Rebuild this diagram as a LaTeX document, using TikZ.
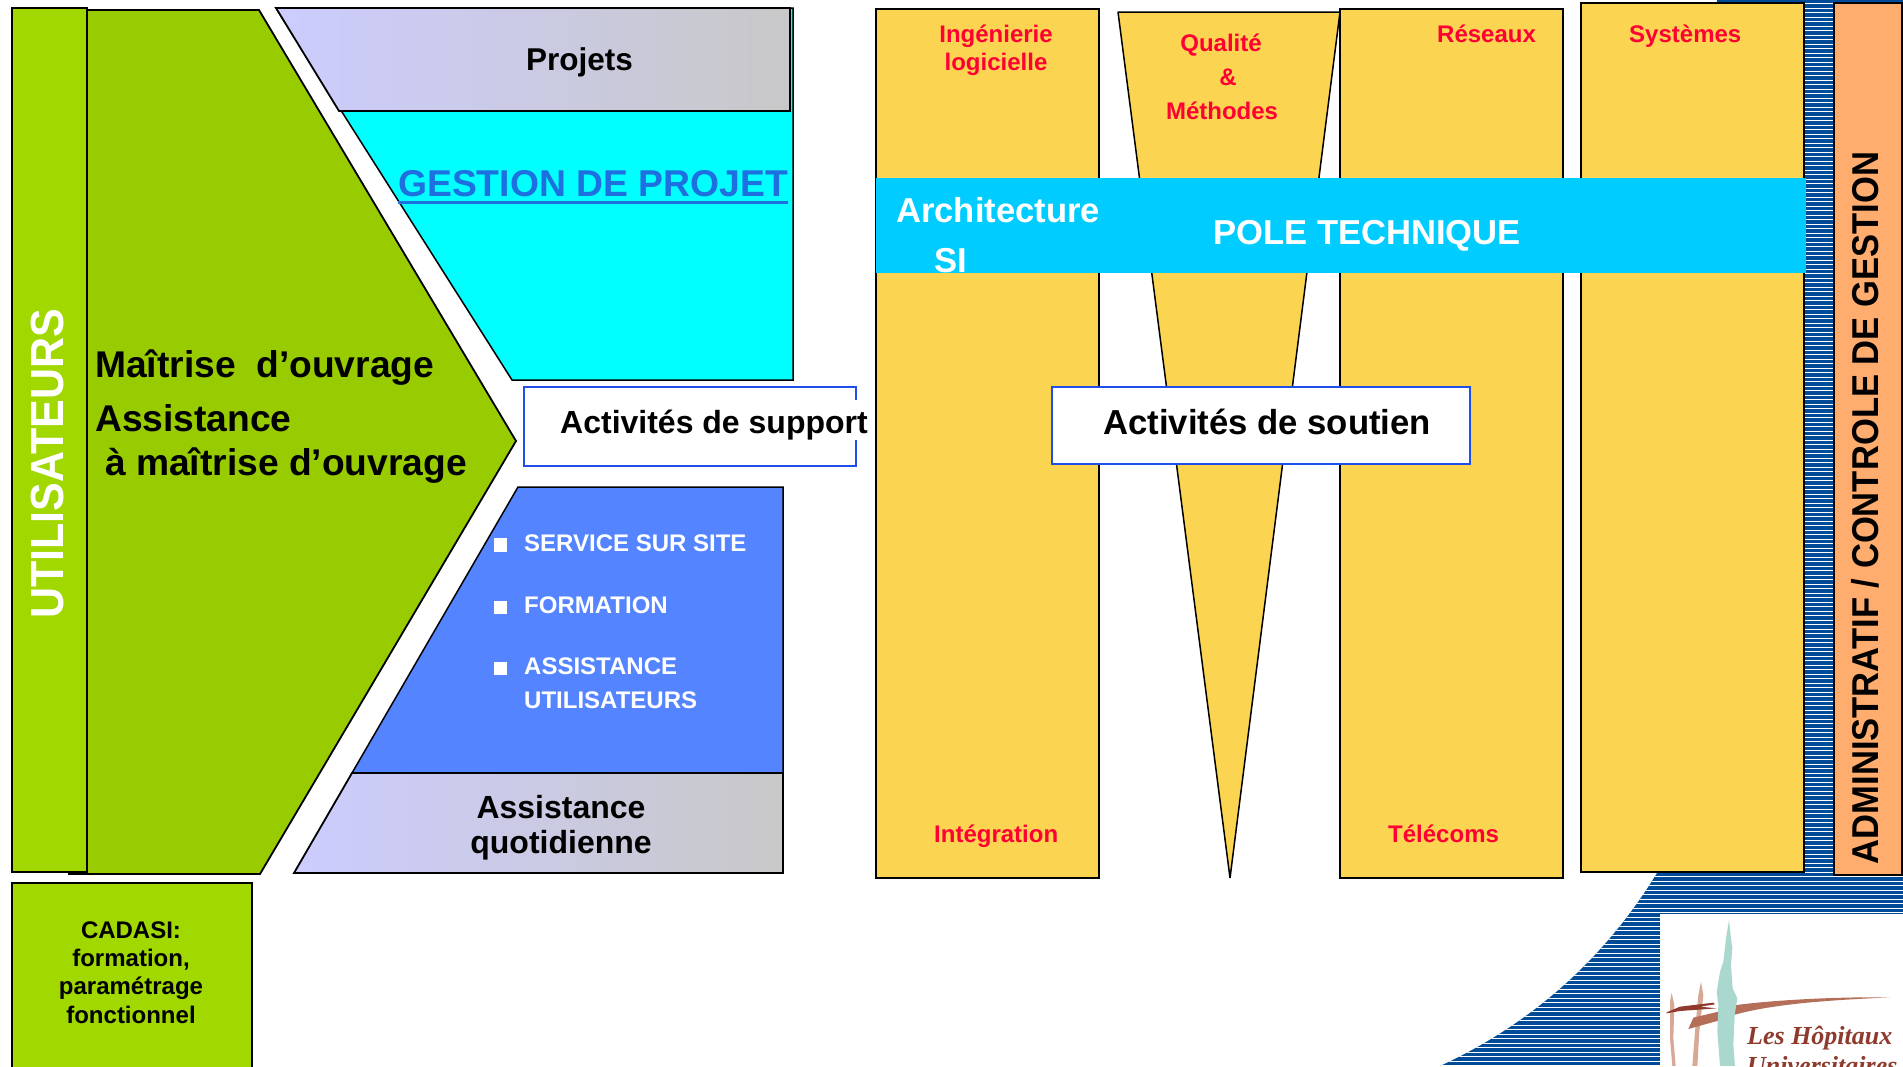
\documentclass[tikz,border=0pt]{standalone}
\usepackage{fontspec}
\setmainfont{Liberation Sans}
\newfontfamily\logofont{Liberation Serif}
\definecolor{barGreen}{HTML}{A0D800}
\definecolor{hexGreen}{HTML}{99CC00}
\definecolor{colYellow}{HTML}{FBD452}
\definecolor{bandBlue}{HTML}{00CCFF}
\definecolor{cyanFill}{HTML}{00FFFF}
\definecolor{listBlue}{HTML}{5484FF}
\definecolor{boxBlue}{HTML}{1F4FE8}
\definecolor{linkBlue}{HTML}{1E6FE0}
\definecolor{redText}{HTML}{FF0033}
\definecolor{orangeFill}{HTML}{FFAD6F}
\definecolor{hatchBlue}{HTML}{004C99}
\definecolor{gradA}{HTML}{CCCCFF}
\definecolor{gradB}{HTML}{C8C8C8}
\definecolor{logoDark}{HTML}{8E3B2E}
\definecolor{logoBrown}{HTML}{B56E58}
\definecolor{logoTan}{HTML}{D8A897}
\definecolor{logoTeal}{HTML}{ABD8CE}
\tikzset{
  shapeline/.style={draw=black,line width=1.8pt,line join=miter},
  gradshape/.style={shapeline,left color=gradA,right color=gradB},
  column/.style={shapeline,fill=colYellow},
  lab/.style={inner sep=0pt,anchor=base west,font=\bfseries\fontsize{#1}{#1}\selectfont},
  clab/.style={inner sep=0pt,anchor=base,font=\bfseries\fontsize{#1}{#1}\selectfont},
  redlab/.style={lab=24,text=redText},
  credlab/.style={clab=24,text=redText},
  listlab/.style={lab=24,text=white},
  bulletmark/.style={fill=white},
  blueframe/.style={draw=boxBlue,line width=2.8pt},
}
\begin{document}
\begin{tikzpicture}[x=1pt,y=-1pt]
\useasboundingbox (0,0) rectangle (1903,1066);
\clip (0,0) rectangle (1903,1066);
% hatched background
\begin{scope}
  \path[clip] (1717,0) -- (1903,0) -- (1903,914) -- (1660,914) -- (1660,1066) -- (1440,1066)
     .. controls (1540,1020) and (1610,950) .. (1657,873) -- (1700,873) -- cycle;
  \fill[hatchBlue] (1400,0) rectangle (1903,1066);
  \foreach \k in {0,...,236} {
    \draw[white,line width=1.2pt] (1400,3.7+4.5*\k) -- (1903,3.7+4.5*\k);
  }
\end{scope}
% left block
\path[shapeline,fill=hexGreen] (87,10) -- (259,10) -- (516,441) -- (260,874) -- (69,874) -- (69,872) -- (87,872) -- cycle;
\path[shapeline,fill=barGreen] (12,8) rectangle (87,872);
\node[lab=43,anchor=base,rotate=90,text=white] (users) at (63,464) {\scalebox{1}[1.08]{UTILISATEURS}};
\node[lab=37.2] (moa) at (95,377) {Maîtrise\ \ d’ouvrage};
\node[lab=37.2] (assist) at (95,431) {Assistance};
\node[lab=37.2] (amoa) at (105,475) {à maîtrise d’ouvrage};
% projects
\path[draw=black,line width=1.5pt,fill=cyanFill] (276,8) -- (793,8) -- (793,380) -- (512,380) -- cycle;
\path[gradshape] (276,8) -- (790,8) -- (790,111) -- (339,111) -- cycle;
\node[lab=31.5] (projets) at (526,70) {Projets};
\node[lab=37.3,text=linkBlue] (gestion) at (398,196) {GESTION DE PROJET};
\fill[linkBlue] ([yshift=-5pt]gestion.base west) rectangle ([yshift=-8pt]gestion.base east);
% support box
\fill[white] (524,386) rectangle (856,467);
\draw[blueframe,line join=miter] (856,400) -- (856,387) -- (524,387) -- (524,466) -- (856,466) -- (856,440);
\node[lab=32] (support) at (560,433) {Activités de support};
% list block
\path[shapeline,line width=1.5pt,fill=listBlue] (518,487) -- (783,487) -- (783,773) -- (352,773) -- cycle;
\path[gradshape] (352,773) -- (783,773) -- (783,873) -- (294,873) -- cycle;
\fill[bulletmark] (494,538) rectangle (507,552);
\fill[bulletmark] (494,601) rectangle (507,614);
\fill[bulletmark] (494,662) rectangle (507,675);
\node[listlab] (l1) at (524,551) {SERVICE SUR SITE};
\node[listlab] (l2) at (524,613) {FORMATION};
\node[listlab] (l3) at (524,674) {ASSISTANCE};
\node[listlab] (l4) at (524,708) {UTILISATEURS};
\node[clab=32] (aq1) at (561,818) {Assistance};
\node[clab=32] (aq2) at (561,853) {quotidienne};
% CADASI
\path[shapeline,fill=barGreen] (12,883) rectangle (252,1075);
\node[clab=24] (c1) at (131,938) {CADASI:};
\node[clab=24] (c2) at (131,966) {formation,};
\node[clab=24] (c3) at (131,994) {paramétrage};
\node[clab=24] (c4) at (131,1023) {fonctionnel};
% columns
\path[column] (876,9) rectangle (1099,878);
\path[column,line width=1.5pt,line join=bevel] (1118,12) -- (1340,12) -- (1230,878) -- cycle;
\path[column] (1340,9) rectangle (1563,878);
\path[column] (1581,3) rectangle (1804,872);
\path[shapeline,fill=orangeFill] (1834,3) rectangle (1902,875);
\node[lab=34.6,anchor=base,rotate=90] (admin) at (1878,508) {\scalebox{1}[1.08]{ADMINISTRATIF / CONTROLE DE GESTION}};
\node[credlab] (r1) at (996,42) {Ingénierie};
\node[credlab] (r2) at (996,70) {logicielle};
\node[credlab] (r3) at (1221,51) {Qualité};
\node[credlab] (r4) at (1228,85) {\&};
\node[credlab] (r5) at (1222,119) {Méthodes};
\node[redlab] (r6) at (1437,42) {Réseaux};
\node[redlab] (r7) at (1629,42) {Systèmes};
\node[redlab] (r8) at (934,842) {Intégration};
\node[redlab] (r9) at (1388,842) {Télécoms};
% band
\fill[bandBlue] (876,178) rectangle (1806,273);
\node[lab=34.6,text=white] (archi) at (896,222) {Architecture};
\node[lab=34.6,text=white] (si) at (934,272) {SI};
\node[lab=34.6,text=white] (pole) at (1213,244) {POLE TECHNIQUE};
% soutien box
\path[blueframe,fill=white] (1052,387) rectangle (1470,464);
\node[lab=34.7] (soutien) at (1103,434) {Activités de soutien};
% logo
\fill[white] (1660,914) rectangle (1903,1066);
\begin{scope}[shift={(1660,905)},x=0.3333pt,y=-0.3333pt]
  \fill[logoTan] (35,263) -- (43,300) -- (40,400) -- (47,483) -- (37,483) -- (30,400) -- (30,290) -- cycle;
  \fill[logoTan] (123,230) -- (130,270) -- (118,380) -- (112,483) -- (97,483) -- (105,380) -- (115,270) -- cycle;
  \fill[logoBrown] (690,277) .. controls (500,275) and (320,288) .. (230,300) -- (175,320) -- (100,338) -- (85,372) -- (175,347) -- (228,328) .. controls (350,295) and (520,285) .. (690,277) -- cycle;
  \fill[logoDark] (20,322) -- (60,305) -- (160,293) -- (165,298) -- (120,305) -- (170,310) -- (60,318) -- (20,325) -- cycle;
  \fill[logoTeal] (207,45) -- (213,100) -- (217,130) -- (213,180) -- (218,250) -- (232,280) -- (224,330) -- (220,420) -- (225,483) -- (180,483) -- (172,380) -- (175,300) -- (170,260) -- (180,200) -- (190,170) -- (198,100) -- cycle;
\end{scope}
\node[inner sep=0pt,anchor=base west,text=logoDark,font=\logofont\bfseries\itshape\fontsize{26}{26}\selectfont] (logo1) at (1747,1044) {Les Hôpitaux};
\node[inner sep=0pt,anchor=base west,text=logoDark,font=\logofont\bfseries\itshape\fontsize{26}{26}\selectfont] (logo2) at (1747,1074) {Universitaires};
\end{tikzpicture}
\end{document}
